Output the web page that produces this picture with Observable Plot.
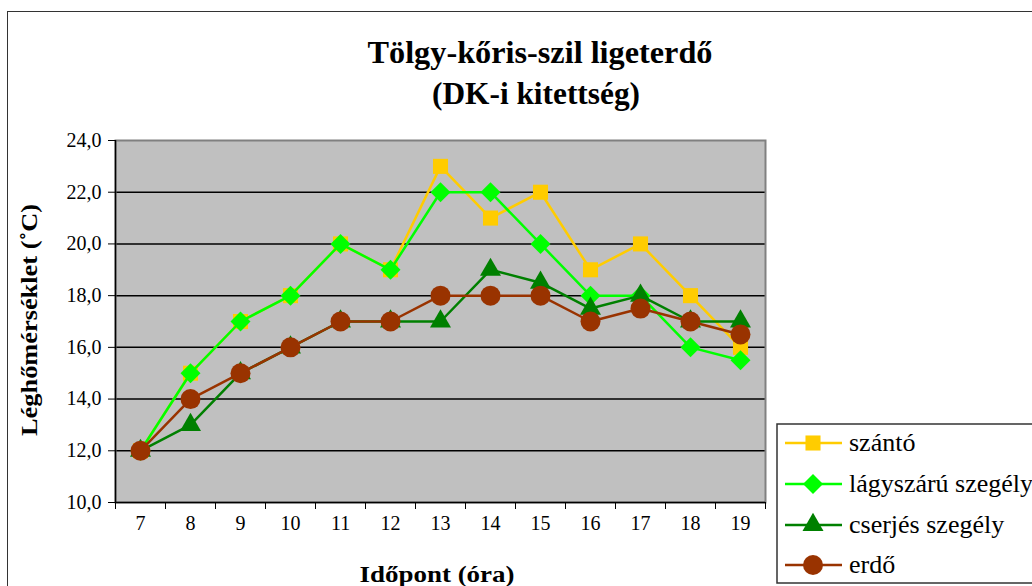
<!DOCTYPE html>
<html>
<head>
<meta charset="utf-8">
<script src="https://cdn.jsdelivr.net/npm/d3@7"></script>
<script src="https://cdn.jsdelivr.net/npm/@observablehq/plot@0.6"></script>
<style>
  body { margin: 0; background: #fff; }
  #wrap { position: relative; width: 1032px; height: 586px; overflow: hidden; font-family: "Liberation Serif", "DejaVu Serif", serif; }
  #border { position: absolute; left: 7px; top: 11px; width: 1100px; height: 700px; border: 1.5px solid #333; box-sizing: border-box; }
  #chart, #overlay { position: absolute; left: 0; top: 0; }
  #chart svg text, #overlay text { font-family: "Liberation Serif", "DejaVu Serif", serif; }
</style>
</head>
<body>
<div id="wrap">
  <div id="border"></div>
  <div id="chart"></div>
  <div id="overlay"></div>
</div>
<script>
const hours = [7, 8, 9, 10, 11, 12, 13, 14, 15, 16, 17, 18, 19];
const szanto = [12, 15, 17, 18, 20, 19, 23, 21, 22, 19, 20, 18, 16];
const lagyszaru = [12, 15, 17, 18, 20, 19, 22, 22, 20, 18, 18, 16, 15.5];
const cserjes = [12, 13, 15, 16, 17, 17, 17, 19, 18.5, 17.5, 18, 17, 17];
const erdo = [12, 14, 15, 16, 17, 17, 18, 18, 18, 17, 17.5, 17, 16.5];
const seriesNames = ["szántó", "lágyszárú szegély", "cserjés szegély", "erdő"];
const seriesValues = [szanto, lagyszaru, cserjes, erdo];
const seriesColors = ["#FFCC00", "#00FF00", "#008000", "#993300"];
const seriesSymbols = ["square", "diamond2", "triangle", "circle"];
const seriesR = [8.5, 9, 7.8, 10];
const yTicks = [10, 12, 14, 16, 18, 20, 22, 24];
const titleLines = ["Tölgy-kőris-szil ligeterdő", "(DK-i kitettség)"];
const yLabel = "Léghőmérséklet (˚C)";
const xLabel = "Időpont (óra)";

const fmt = d => d.toFixed(1).replace(".", ",");
const boundaries = hours.map(h => h - 0.5).concat([hours[hours.length - 1] + 0.5]);

const seriesMarks = seriesNames.flatMap((name, i) => {
  const rows = hours.map((h, j) => ({hour: h, value: seriesValues[i][j]}));
  return [
    Plot.line(rows, {x: "hour", y: "value", stroke: seriesColors[i], strokeWidth: 2.5}),
    Plot.dot(rows, {x: "hour", y: "value", symbol: () => seriesSymbols[i], r: seriesR[i], fill: seriesColors[i], stroke: "none"})
  ];
});

const chart = Plot.plot({
  width: 1032,
  height: 586,
  marginLeft: 115,
  marginRight: 267,
  marginTop: 140,
  marginBottom: 84,
  style: {fontFamily: "'Liberation Serif', 'DejaVu Serif', serif", fontSize: "20px", background: "transparent", color: "#000"},
  x: {domain: [6.5, 19.5]},
  y: {domain: [10, 24]},
  symbol: {type: "identity"},
  marks: [
    Plot.frame({fill: "#C0C0C0"}),
    Plot.ruleY(yTicks.slice(1, -1), {stroke: "#000", strokeWidth: 1.5}),
    Plot.frame({stroke: "#808080", strokeWidth: 2}),
    Plot.ruleX([6.5], {stroke: "#000", strokeWidth: 1.5}),
    Plot.ruleY([10], {stroke: "#000", strokeWidth: 1.5}),
    Plot.axisY({ticks: yTicks, tickFormat: fmt, tickSize: 7, tickPadding: 7, fontSize: 20, label: null, stroke: "#000"}),
    Plot.axisX({ticks: boundaries, tickFormat: () => "", tickSize: 7, label: null, stroke: "#000"}),
    Plot.axisX({ticks: hours, tickSize: 0, tickPadding: 13, fontSize: 20, label: null}),
    ...seriesMarks
  ]
});
document.getElementById("chart").appendChild(chart);

// Overlay: titles, axis labels, legend
const ov = d3.create("svg").attr("width", 1032).attr("height", 586);
ov.append("text").text(titleLines[0]).attr("x", 540).attr("y", 63)
  .attr("text-anchor", "middle").attr("font-weight", "bold").attr("font-size", 32)
  .attr("textLength", 345).attr("lengthAdjust", "spacingAndGlyphs");
ov.append("text").text(titleLines[1]).attr("x", 536).attr("y", 104)
  .attr("text-anchor", "middle").attr("font-weight", "bold").attr("font-size", 32)
  .attr("textLength", 208).attr("lengthAdjust", "spacingAndGlyphs");
ov.append("text").text(yLabel).attr("transform", "translate(37,320) rotate(-90)")
  .attr("text-anchor", "middle").attr("font-weight", "bold").attr("font-size", 24)
  .attr("textLength", 232).attr("lengthAdjust", "spacingAndGlyphs");
ov.append("text").text(xLabel).attr("x", 437).attr("y", 582)
  .attr("text-anchor", "middle").attr("font-weight", "bold").attr("font-size", 24)
  .attr("textLength", 155).attr("lengthAdjust", "spacingAndGlyphs");

const lg = ov.append("g");
lg.append("rect").attr("x", 777).attr("y", 424).attr("width", 300).attr("height", 159)
  .attr("fill", "#fff").attr("stroke", "#333").attr("stroke-width", 1.5);
const symMap = {square: d3.symbolSquare, diamond2: d3.symbolDiamond2, triangle: d3.symbolTriangle, circle: d3.symbolCircle};
const markerY = [443, 484, 525, 565];
seriesNames.forEach((name, i) => {
  const cy = markerY[i];
  lg.append("line").attr("x1", 785).attr("x2", 842).attr("y1", cy).attr("y2", cy)
    .attr("stroke", seriesColors[i]).attr("stroke-width", 2.5);
  lg.append("path").attr("transform", `translate(813,${cy})`)
    .attr("d", d3.symbol(symMap[seriesSymbols[i]], Math.PI * seriesR[i] * seriesR[i])())
    .attr("fill", seriesColors[i]);
  lg.append("text").text(name).attr("x", 849).attr("y", cy + 8)
    .attr("font-size", 26).attr("fill", "#000");
});
document.getElementById("overlay").appendChild(ov.node());
</script>
</body>
</html>
